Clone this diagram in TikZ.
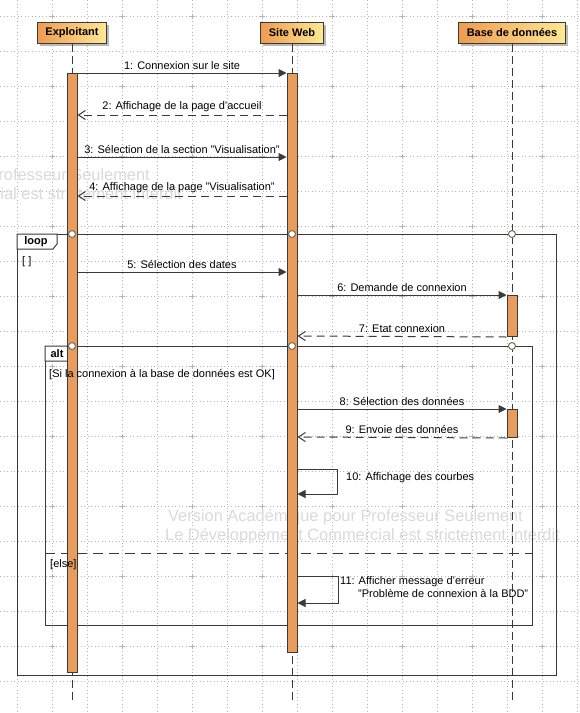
\documentclass[tikz,border=0pt]{standalone}
\usepackage{fontspec}
\setmainfont{Liberation Sans}
\usetikzlibrary{arrows.meta,shadows,positioning}

\definecolor{barfill}{HTML}{E89C5E}
\definecolor{hdrleft}{HTML}{EE9C50}
\definecolor{hdrright}{HTML}{FFE894}
\definecolor{ink}{HTML}{3A3A3A}
\definecolor{gatedraw}{HTML}{7A6A5A}
\definecolor{griddot}{HTML}{B4B4B4}
\definecolor{wmark}{HTML}{DADADA}

\newcommand{\msgfont}{\fontsize{11}{13}\selectfont}

\tikzset{
  actor/.style={draw=ink, line width=1pt, left color=hdrleft, right color=hdrright,
    drop shadow={shadow xshift=2.5pt, shadow yshift=-2.5pt, fill=gray!55, opacity=1},
    minimum height=21pt, inner xsep=8pt, inner ysep=0pt, font=\msgfont\bfseries},
  lifeline/.style={draw=ink, line width=1pt, dash pattern=on 8pt off 4pt},
  actbar/.style={draw=ink, fill=barfill, line width=1pt, minimum width=10pt, inner sep=0pt, anchor=north},
  call/.style={draw=ink, line width=1pt, -{Triangle[length=8pt,width=8pt]}},
  reply/.style={draw=ink, line width=1pt, dash pattern=on 8pt off 5pt, -{Straight Barb[length=7pt,width=9pt]}},
  msg/.style={font=\msgfont, inner sep=1pt, above=2pt},
  fragment/.style={draw=ink, line width=1pt, inner sep=0pt, anchor=north west},
  guard/.style={font=\msgfont, inner sep=0pt, anchor=west},
  gate/.style={circle, draw=gatedraw, fill=white, line width=1pt, minimum size=7pt, inner sep=0pt},
  gridline/.style={draw=griddot, line width=0.7pt, dash pattern=on 0.7pt off 2.8pt},
  watermark/.style={text=wmark, font=\fontsize{16.4}{19}\selectfont, inner sep=0pt, anchor=west},
}

\begin{document}
\begin{tikzpicture}[x=1pt, y=-1pt]
   \fill[white] (0,0) rectangle (580,713);
   \useasboundingbox (0,0) rectangle (580,713);

   % grid
   \foreach \i in {0,...,16}
      \draw[gridline] ({17.3+35*\i},0) -- ({17.3+35*\i},713);
   \foreach \j in {0,...,20}
      \draw[gridline] (0,{16.5+35*\j}) -- (580,{16.5+35*\j});
   \foreach \i in {0,...,7}
      \foreach \j in {0,...,10}
         \draw[griddot, line width=0.7pt] ({52.3+70*\i-2.5},{16.5+70*\j}) -- ++(5,0)
                                          ({52.3+70*\i},{16.5+70*\j-2.5}) -- ++(0,5);

   % watermark
   \node[watermark] (wm1) at (168,517) {Version Académique pour Professeur Seulement};
   \node[watermark] (wm2) at (165,536) {Le Développement Commercial est strictement interdit};
   \node[watermark] (wm3) at (-205,176) {Version Académique pour Professeur Seulement};
   \node[watermark] (wm4) at (-213,195) {Le Développement Commercial est strictement interdit};

   % combined fragments
   \node[fragment, minimum width=539pt, minimum height=441pt] (loopF) at (17,234) {};
   \draw[line width=1pt, draw=ink, fill=white] (loopF.north west) -- ++(40,0) -- ++(0,10) -- ++(-4,5) -- ++(-36,0) -- cycle;
   \node[font=\msgfont\bfseries, inner sep=0pt] (loopT) at (36,241.5) {loop};
   \node[guard] (loopG) at (22,262) {[ ]};

   \node[fragment, minimum width=487pt, minimum height=279pt] (altF) at (45,346) {};
   \draw[line width=1pt, draw=ink, fill=white] (altF.north west) -- ++(27,0) -- ++(0,10) -- ++(-4,5) -- ++(-23,0) -- cycle;
   \node[font=\msgfont\bfseries, inner sep=0pt] (altT) at (57,353.5) {alt};
   \draw[draw=ink, line width=1pt, dash pattern=on 10pt off 6pt] (altF.west |- 0,553) -- (altF.east |- 0,553);

   % lifelines
   \node[actor] (hdrA) at (72,32.5) {Exploitant};
   \node[actor] (hdrB) at (292,32.5) {Site Web};
   \node[actor] (hdrC) at (512,32.5) {Base de données};
   \coordinate (endA) at (72,700);
   \coordinate (endB) at (292,700);
   \coordinate (endC) at (512,703);
   \draw[lifeline] (hdrA) -- (endA);
   \draw[lifeline] (hdrB) -- (endB);
   \draw[lifeline] (hdrC) -- (endC);

   % activations
   \node[actbar, minimum height=599pt] (actA) at (72,73) {};
   \node[actbar, minimum height=579pt] (actB) at (292,73) {};
   \node[actbar, minimum height=41pt] (actC1) at (512,295) {};
   \node[actbar, minimum height=28pt] (actC2) at (512,409) {};

   \node[guard] (altG1) at (49,375) {[Si la connexion à la base de données est OK]};
   \node[guard] (altG2) at (50,565) {[else]};

   % messages
   \draw[call] (actA.east |- 0,73) -- node[msg] {1: Connexion sur le site} (actB.west |- 0,73);
   \draw[reply] (actB.west |- 0,115) -- node[msg] {2: Affichage de la page d'accueil} (actA.east |- 0,115);
   \draw[call] (actA.east |- 0,157) -- node[msg] {3: Sélection de la section "Visualisation"} (actB.west |- 0,157);
   \draw[reply] (actB.west |- 0,196) -- node[msg] {4: Affichage de la page "Visualisation"} (actA.east |- 0,196);
   \draw[call] (actA.east |- 0,272) -- node[msg] {5: Sélection des dates} (actB.west |- 0,272);
   \draw[call] (actB.east |- 0,295) -- node[msg] {6: Demande de connexion} (actC1.north west);
   \draw[reply] (actC1.south west) -- node[msg] {7: Etat connexion} (actB.east |- 0,336);
   \draw[call] (actB.east |- 0,409) -- node[msg] {8: Sélection des données} (actC2.north west);
   \draw[reply] (actC2.south west) -- node[msg] {9: Envoie des données} (actB.east |- 0,437);

   % self messages
   \draw[call] (actB.east |- 0,469) -- ++(40,0) |- (actB.east |- 0,494);
   \node[guard] (m10) at (346,478) {10: Affichage des courbes};
   \draw[call] (actB.east |- 0,576) -- ++(41,0) |- (actB.east |- 0,603);
   \node[guard, align=left, anchor=north west] (m11) at (340,576)
      {11: Afficher message d'erreur\\\hspace*{18pt}"Problème de connexion à la BDD"};

   % gates
   \foreach \y/\n in {234/l, 346/a} {
      \node[gate] (g\n A) at (72,\y) {};
      \node[gate] (g\n B) at (292,\y) {};
      \node[gate] (g\n C) at (512,\y) {};
   }
\end{tikzpicture}
\end{document}
